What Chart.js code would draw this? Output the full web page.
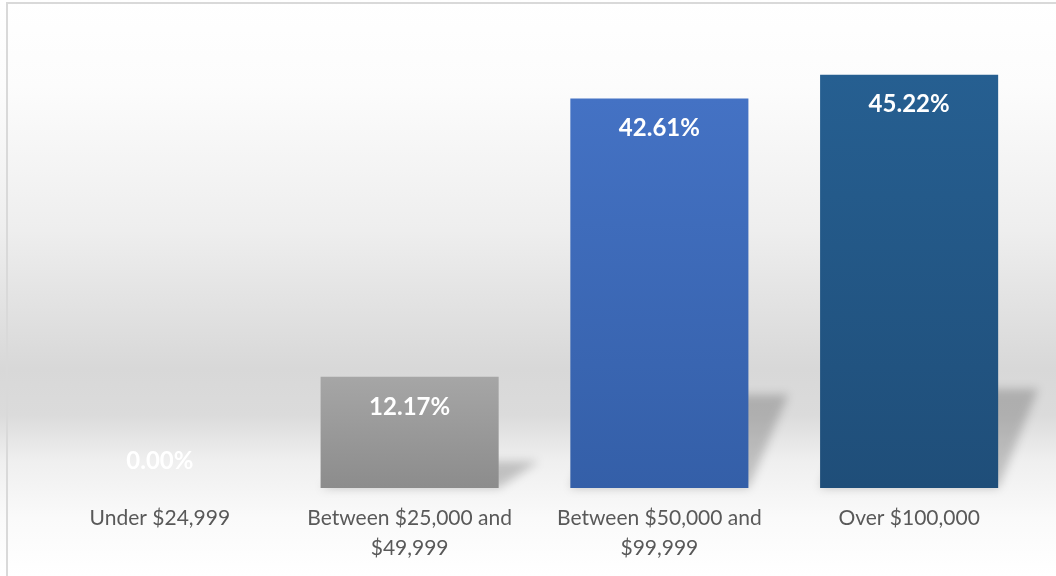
<!DOCTYPE html>
<html>
<head>
<meta charset="utf-8">
<script src="https://cdn.jsdelivr.net/npm/chart.js@4.4.1/dist/chart.umd.min.js"></script>
<style>
  html, body { margin: 0; padding: 0; background: #fff; }
  #wrap { width: 1056px; height: 576px; }
</style>
</head>
<body>
<div id="wrap"><canvas id="incomeChart" width="1056" height="576"></canvas></div>
<script>
const categories = [
  'Under $24,999',
  ['Between $25,000 and', '$49,999'],
  ['Between $50,000 and', '$99,999'],
  'Over $100,000'
];
const shares = [0.00, 12.17, 42.61, 45.22];
const topColors = ['#a6a6a6', '#a6a6a6', '#4472c4', '#265f91'];
const bottomColors = ['#8c8c8c', '#8c8c8c', '#345fa8', '#1f4e79'];

// chart background + frame
const backdrop = {
  id: 'backdrop',
  beforeDraw(chart) {
    const ctx = chart.ctx;
    const g = ctx.createLinearGradient(0, 0, 0, chart.height);
    g.addColorStop(0, '#ffffff');
    g.addColorStop(0.15, '#fcfcfc');
    g.addColorStop(0.4, '#eeeeee');
    g.addColorStop(0.64, '#d8d8d8');
    g.addColorStop(0.72, '#dbdbdb');
    g.addColorStop(0.8, '#efefef');
    g.addColorStop(0.9, '#fafafa');
    g.addColorStop(1, '#ffffff');
    ctx.save();
    ctx.fillStyle = g;
    ctx.fillRect(0, 0, chart.width, chart.height);
    ctx.strokeStyle = '#d9d9d9';
    ctx.lineWidth = 2;
    ctx.beginPath();
    ctx.moveTo(7, chart.height);
    ctx.lineTo(7, 3);
    ctx.lineTo(chart.width, 3);
    ctx.stroke();
    ctx.restore();
  }
};

// perspective shadow behind each bar
const barShadow = {
  id: 'barShadow',
  beforeDatasetsDraw(chart) {
    const ctx = chart.ctx;
    const meta = chart.getDatasetMeta(0);
    ctx.save();
    ctx.filter = 'blur(5px)';
    ctx.fillStyle = 'rgba(0,0,0,0.2)';
    meta.data.forEach(bar => {
      const h = bar.base - bar.y;
      if (h <= 0) return;
      const x0 = bar.x - bar.width / 2, x1 = bar.x + bar.width / 2;
      const sh = h * 0.24, off = 40;
      ctx.beginPath();
      ctx.moveTo(x0, bar.base);
      ctx.lineTo(x1, bar.base);
      ctx.lineTo(x1 + off, bar.base - sh);
      ctx.lineTo(x0 + off, bar.base - sh);
      ctx.closePath();
      ctx.fill();
    });
    ctx.restore();
  }
};

// value labels, inside end
const valueLabels = {
  id: 'valueLabels',
  afterDatasetsDraw(chart) {
    const ctx = chart.ctx;
    const meta = chart.getDatasetMeta(0);
    ctx.save();
    ctx.font = 'bold 24px Lato';
    ctx.fillStyle = '#ffffff';
    ctx.textAlign = 'center';
    ctx.textBaseline = 'middle';
    meta.data.forEach((bar, i) => {
      const y = Math.min(bar.y + 30, bar.base - 27);
      ctx.fillText(shares[i].toFixed(2) + '%', bar.x, y);
    });
    ctx.restore();
  }
};

document.addEventListener('DOMContentLoaded', () => {
  const ctx = document.getElementById('incomeChart').getContext('2d');

  new Chart(ctx, {
    type: 'bar',
    data: {
      labels: categories,
      datasets: [{
        data: shares,
        backgroundColor: (c) => {
          const chart = c.chart;
          if (!chart.chartArea || c.dataIndex === undefined) return topColors[c.dataIndex || 0];
          const y = chart.scales.y;
          const top = y.getPixelForValue(shares[c.dataIndex]);
          const base = y.getPixelForValue(0);
          if (base - top < 1) return topColors[c.dataIndex];
          const g = chart.ctx.createLinearGradient(0, top, 0, base);
          g.addColorStop(0, topColors[c.dataIndex]);
          g.addColorStop(1, bottomColors[c.dataIndex]);
          return g;
        },
        borderWidth: 0,
        barPercentage: 0.713,
        categoryPercentage: 1
      }]
    },
    options: {
      responsive: false,
      animation: false,
      layout: { padding: { left: 35, right: 22, top: 31, bottom: 0 } },
      plugins: {
        legend: { display: false },
        tooltip: { enabled: false }
      },
      scales: {
        x: {
          grid: { display: false, drawTicks: false },
          border: { display: false },
          ticks: {
            color: '#595959',
            font: { family: 'Lato', size: 21, lineHeight: 1.43 },
            padding: 15,
            maxRotation: 0,
            autoSkip: false
          },
          afterFit(scale) { scale.height = 88; }
        },
        y: {
          display: false,
          min: 0,
          max: 50
        }
      }
    },
    plugins: [backdrop, barShadow, valueLabels]
  });
});
</script>
</body>
</html>
